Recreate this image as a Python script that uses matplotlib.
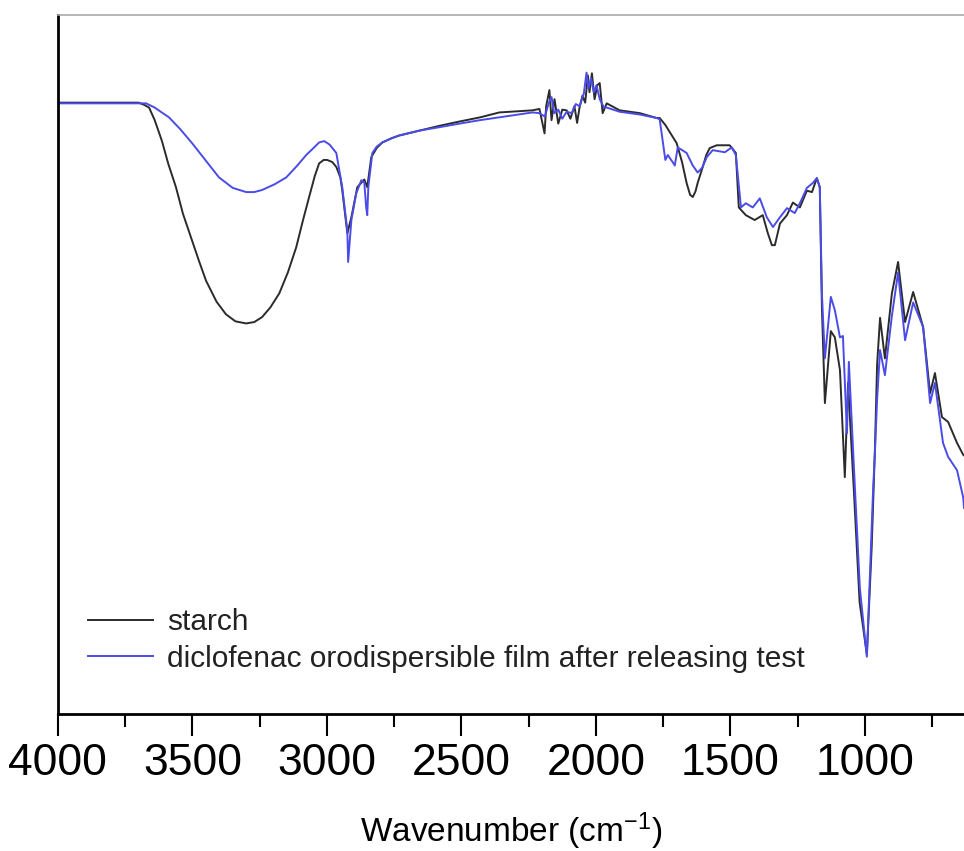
import numpy as np
import matplotlib
matplotlib.use('Agg')
import matplotlib.pyplot as plt

plt.rcParams['font.family'] = ['Liberation Sans', 'DejaVu Sans']
plt.rcParams['mathtext.default'] = 'regular'

# starch spectrum (wavenumber, transmittance)
starch_wn = [4000, 3700, 3680, 3661, 3640, 3613, 3590, 3561, 3535, 3505, 3475, 3449, 3410, 3375,
             3340, 3300, 3270, 3241, 3210, 3177, 3145, 3114, 3090, 3066, 3045, 3029, 3012, 2999,
             2980, 2965, 2950, 2943, 2924, 2909, 2887, 2861, 2850, 2835, 2815, 2794, 2760, 2731,
             2656, 2580, 2507, 2430, 2359,
             2236, 2210, 2191, 2185, 2173, 2165, 2154, 2140, 2125, 2109, 2095, 2080, 2070, 2061,
             2050, 2040, 2030, 2024, 2015, 2005, 1995, 1986, 1975, 1960, 1912, 1837, 1774, 1763,
             1742, 1726, 1700, 1680, 1663, 1650, 1640, 1630, 1622, 1603, 1590, 1577, 1551, 1503,
             1480, 1469, 1443, 1410, 1380, 1361, 1346, 1335, 1316, 1290, 1268, 1242, 1216, 1197,
             1179, 1168, 1160, 1149, 1127, 1112, 1093, 1075, 1063, 1040, 1020, 993, 975, 963, 955,
             944, 926, 900, 877, 851, 821, 784, 758, 740, 714, 691, 658, 635, 632]
starch_t = [87.5, 87.5, 87.2, 86.8, 85.0, 82.0, 78.8, 75.4, 71.6, 68.2, 64.8, 62.0, 59.0, 57.2,
            56.2, 55.9, 56.1, 56.8, 58.2, 60.2, 63.2, 66.8, 70.5, 74.0, 77.0, 78.8, 79.3, 79.3,
            79.0, 78.3, 76.8, 75.0, 68.8, 71.1, 75.4, 76.5, 75.4, 79.7, 81.0, 81.8, 82.4, 82.8,
            83.5, 84.2, 84.8, 85.4, 86.1,
            86.4, 86.6, 83.1, 87.0, 89.3, 85.0, 88.0, 84.5, 86.5, 86.4, 85.2, 87.0, 84.6, 86.8,
            88.5, 87.5, 91.4, 89.0, 91.7, 88.0, 90.0, 90.3, 86.0, 87.4, 86.4, 86.0, 85.3, 85.3,
            84.3, 83.3, 81.7, 79.0, 76.0, 74.3, 74.0, 74.8, 76.0, 78.3, 80.0, 81.0, 81.4, 81.4,
            80.3, 72.5, 71.4, 70.7, 71.4, 68.8, 67.1, 67.1, 70.2, 71.4, 73.2, 72.5, 74.9, 74.7,
            76.7, 75.4, 58.0, 44.5, 54.8, 53.9, 49.2, 33.9, 47.4, 31.0, 16.0, 8.5, 24.0, 38.0, 50.0,
            56.7, 50.9, 60.2, 64.7, 56.1, 60.4, 55.4, 45.9, 48.8, 42.5, 41.8, 38.8, 37.1, 37.0]

# diclofenac orodispersible film after releasing test
film_wn = [4000, 3672, 3640, 3610, 3587, 3545, 3501, 3450, 3401, 3350, 3300, 3270, 3241, 3195,
           3151, 3110, 3077, 3050, 3029, 3010, 2990, 2965, 2943, 2924,
           2921, 2909, 2891, 2872, 2861, 2854, 2850, 2846, 2831, 2815, 2794, 2760, 2731, 2656,
           2580, 2507, 2430, 2359,
           2236, 2210, 2190, 2175, 2165, 2155, 2140, 2125, 2109, 2090, 2075, 2061, 2045, 2035,
           2028, 2018, 2008, 1998, 1986, 1970, 1960, 1912, 1837, 1774, 1763, 1742, 1733, 1715,
           1707, 1696, 1663, 1640, 1622, 1605, 1588, 1566, 1521, 1495, 1480, 1461, 1443, 1417,
           1391, 1365, 1342, 1316, 1290, 1261, 1242, 1216, 1194, 1179, 1168, 1160, 1149, 1127,
           1112, 1093, 1082, 1067, 1060, 1037, 1019, 993, 970, 963, 955, 944, 926, 900, 877, 851,
           821, 784, 758, 740, 710, 691, 658, 635, 632]
film_t = [87.4, 87.4, 86.8, 86.0, 85.4, 83.7, 81.7, 79.2, 76.8, 75.3, 74.7, 74.7, 75.0, 75.8,
          76.8, 78.5, 80.0, 81.0, 81.8, 82.0, 81.5, 80.3, 75.4, 69.2,
          64.7, 70.7, 74.5, 76.4, 76.1, 72.5, 71.4, 75.4, 80.3, 81.2, 81.8, 82.4, 82.8, 83.5,
          84.0, 84.5, 85.0, 85.4,
          86.1, 86.0, 85.5, 87.5, 88.3, 86.0, 86.5, 85.2, 86.2, 86.0, 87.3, 87.0, 88.8, 91.8,
          89.5, 91.0, 89.0, 90.0, 88.0, 86.8, 86.8, 86.2, 85.8, 85.3, 85.1, 79.3, 80.0, 79.0,
          78.5, 81.1, 80.3, 78.5, 77.5, 78.2, 79.7, 80.7, 80.4, 81.1, 80.0, 72.5, 73.1, 72.5,
          73.8, 71.1, 69.7, 71.1, 72.4, 71.7, 73.1, 75.3, 76.0, 76.7, 75.4, 60.0, 50.9, 59.7,
          57.8, 53.9, 54.1, 40.2, 50.4, 32.0, 18.0, 8.2, 32.0, 37.5, 45.0, 52.1, 48.5, 57.0, 63.2,
          53.5, 58.9, 55.4, 44.5, 47.4, 38.8, 36.8, 34.9, 31.0, 29.5]

fig = plt.figure(figsize=(9.64, 8.51), dpi=100)
ax = fig.add_axes([0.060, 0.161, 0.940, 0.821])

ax.plot(starch_wn, starch_t, color='#2b2b2b', lw=1.4, label='starch')
ax.plot(film_wn, film_t, color='#4b4be8', lw=1.4,
        label='diclofenac orodispersible film after releasing test')

ax.set_xlim(4000, 632)
ax.set_ylim(0, 100)
ax.set_xticks([4000, 3500, 3000, 2500, 2000, 1500, 1000])
ax.set_xticks(np.arange(3750, 632, -500), minor=True)
ax.set_yticks([])
ax.tick_params(axis='x', which='major', direction='out', length=16, width=1.5, labelsize=32, pad=5)
ax.tick_params(axis='x', which='minor', direction='out', length=9, width=1.5)

ax.spines['left'].set_linewidth(2)
ax.spines['bottom'].set_linewidth(2)
ax.spines['top'].set_color('#aaaaaa')
ax.spines['top'].set_linewidth(1.2)
ax.spines['right'].set_visible(False)

ax.set_xlabel('Wavenumber (cm$^{-1}$)', fontsize=24, labelpad=19)

leg = ax.legend(loc='upper left', bbox_to_anchor=(0.033, 0.151), frameon=False, fontsize=21.5,
                handlelength=2.2, handletextpad=0.45, borderpad=0, borderaxespad=0,
                labelspacing=0.28)
for t in leg.get_texts():
    t.set_color('#222222')

plt.savefig('out.png', dpi=100)
